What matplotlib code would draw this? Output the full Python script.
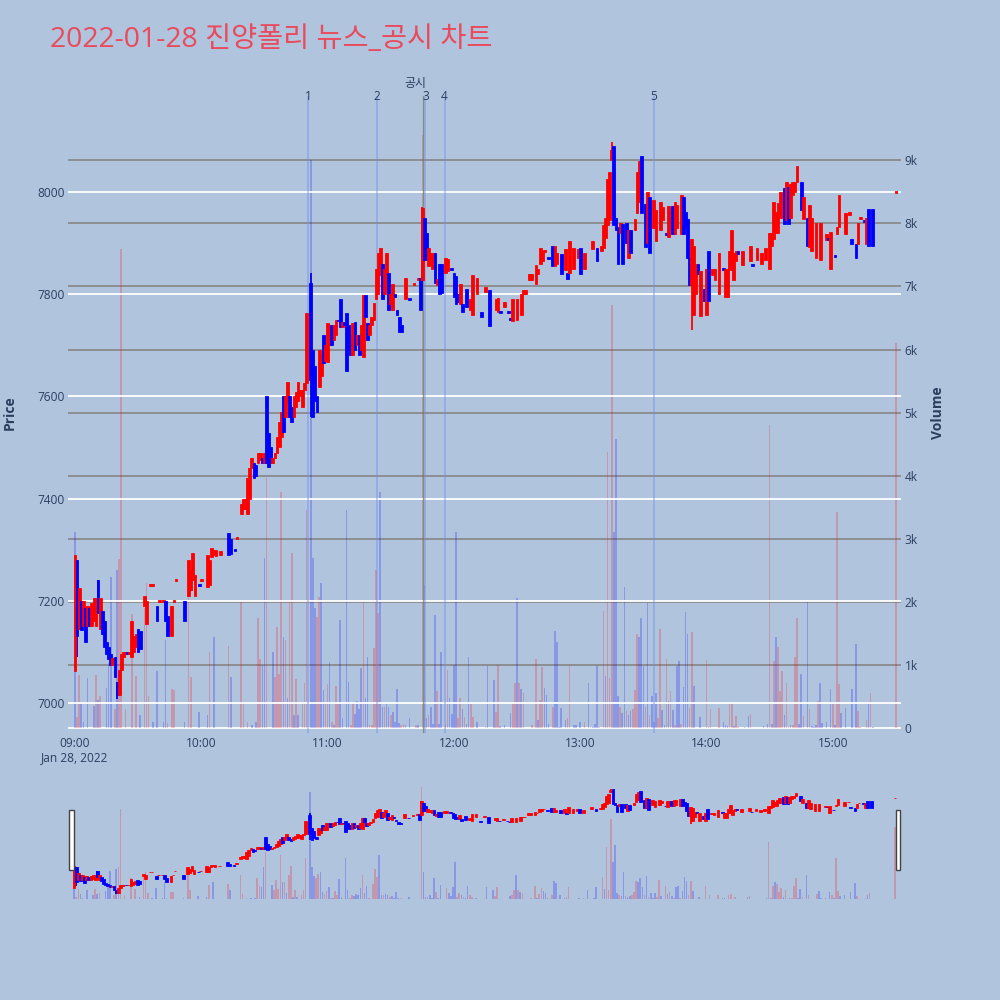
import matplotlib
matplotlib.use('Agg')
import matplotlib.pyplot as plt
import matplotlib.transforms as mtransforms
from matplotlib.patches import Rectangle

plt.rcParams['font.family'] = ['Open Sans', 'Noto Sans CJK KR', 'DejaVu Sans']

N = None
title = '2022-01-28 진양폴리 뉴스_공시 차트'

# one candle per minute after 09:00 (None = no trade that minute)
opens = [
    7062, 7280, 7145, 7200, 7150, 7185, 7150, 7185, 7150, 7160,
    7150, 7240, 7145, 7180, 7160, 7120, 7110, 7095, 7075, 7090,
    7040, 7015, 7065, 7090, 7095, 7100, 7095, 7090, 7100, 7110,
    7145, 7140, N, 7190, 7155, N, 7228, 7228, N, 7190,
    7198, N, 7198, 7200, 7170, N, 7130, 7198, 7238, N,
    N, N, 7200, N, 7210, 7220, 7240, 7210, N, 7232,
    7238, N, N, 7227, 7230, 7285, 7290, 7288, N, 7290,
    N, N, N, 7333, 7320, N, 7302, 7320, N, 7370,
    7380, 7380, 7370, 7400, 7460, 7470, 7465, 7470, 7475, 7480,
    7470, 7600, 7528, 7500, 7470, 7480, 7490, 7500, 7520, 7600,
    7560, 7587, 7600, 7580, 7560, 7580, 7590, 7600, 7580, 7612,
    7626, N, 7822, 7690, 7660, 7600, 7618, 7640, 7720, 7670,
    7667, 7700, 7740, 7710, 7720, 7750, 7790, 7735, 7745, 7763,
    7740, 7720, 7680, 7745, 7700, 7720, 7690, 7677, 7798, 7743,
    7720, 7740, 7750, 7790, 7800, 7837, 7860, 7800, 7810, 7842,
    7780, 7770, 7800, 7770, 7755, 7740, N, 7790, N, 7792,
    N, 7818, N, 7828, 7832, 7828, 7950, 7920, 7855, 7860,
    7850, 7880, 7818, 7860, 7860, N, 7842, 7845, N, 7852,
    7842, 7835, 7800, 7780, 7780, N, 7810, N, 7770, 7760,
    N, 7800, N, 7765, N, 7805, N, 7808, N, N,
    7770, 7765, 7767, N, 7775, N, 7767, 7754, 7748, N,
    7750, N, 7760, 7800, 7800, N, 7828, 7828, N, 7820,
    7840, 7860, 7865, 7883, N, 7872, N, 7895, 7855, 7860,
    N, 7878, N, 7848, 7842, 7842, N, 7850, N, 7870,
    7890, N, 7850, N, N, N, 7888, N, 7890, N,
    7885, 7890, 7910, 7935, 7945, 8063, 8090, 7950, 7932, 7920,
    7938, N, 7940, 7870, 7925, N, 7925, 7958, 7980, 8070,
    N, 7976, 7900, 7990, N, 7930, 7905, N, 7925, 7945,
    N, 7920, 7912, 7930, 7972, 7918, 7930, N, 7918, 7990,
    7960, 7948, 7870, 7818, 7760, 7800, 7860, 7758, N, 7810,
    7760, 7885, N, 7838, 7828, N, 7800, N, 7852, 7795,
    7795, 7850, 7848, 7828, 7865, 7885, N, 7858, N, N,
    N, 7865, 7860, N, 7867, N, 7860, N, 7867, N,
    7850, 7895, 7908, 7920, 7920, 7950, N, 8007, 7945, 8010,
    7950, 7995, 8000, 8020, N, 8020, 7948, N, 7950, 7893,
    7885, N, 7870, N, 7867, N, N, 7906, 7910, 7850,
    N, 7877, 7918, 7932, N, N, 7918, N, 7956, 7908,
    N, 7898, 7898, 7948, N, 7945, 7898, 7966, N, 7966,
    N, N, N, N, N, N, N, N, N, N,
    7998,
]
closes = [
    7290, 7130, 7225, 7143, 7200, 7120, 7190, 7150, 7195, 7205,
    7205, 7175, 7205, 7135, 7110, 7095, 7085, 7075, 7088, 7050,
    7015, 7065, 7095, 7100, 7100, 7096, 7100, 7160, 7130, 7135,
    7100, 7105, N, 7210, 7200, N, 7232, 7232, N, 7160,
    7202, N, 7202, 7160, 7130, N, 7190, 7202, 7242, N,
    N, N, 7160, N, 7280, 7260, 7293, 7250, N, 7228,
    7242, N, N, 7290, 7280, 7303, 7300, 7300, N, 7298,
    N, N, N, 7290, 7292, N, 7298, 7324, N, 7390,
    7400, 7400, 7440, 7460, 7480, 7440, 7445, 7490, 7490, 7470,
    7490, 7470, 7462, 7470, 7480, 7490, 7520, 7550, 7570, 7530,
    7600, 7628, 7560, 7550, 7600, 7608, 7628, 7612, 7612, 7626,
    7763, N, 7632, 7560, 7590, 7570, 7690, 7680, 7665, 7700,
    7743, 7740, 7700, 7740, 7750, 7748, 7735, 7745, 7740, 7650,
    7690, 7680, 7743, 7690, 7720, 7680, 7740, 7798, 7755, 7710,
    7740, 7755, 7782, 7850, 7880, 7890, 7790, 7850, 7880, 7770,
    7800, 7820, 7795, 7760, 7726, 7726, N, 7832, N, 7788,
    N, 7822, N, 7832, 7770, 7968, 7867, 7867, 7890, 7880,
    7880, 7822, 7830, 7800, 7802, N, 7870, 7868, N, 7848,
    7795, 7780, 7785, 7820, 7765, N, 7775, N, 7790, 7838,
    N, 7832, N, 7755, N, 7815, N, 7738, N, N,
    7790, 7792, 7763, N, 7785, N, 7763, 7750, 7790, N,
    7790, N, 7800, 7808, 7808, N, 7840, 7840, N, 7858,
    7850, 7890, 7885, 7887, N, 7868, N, 7855, 7895, 7880,
    N, 7840, N, 7888, 7830, 7905, N, 7890, N, 7888,
    7840, N, 7880, N, N, N, 7905, N, 7865, N,
    7895, 7935, 7950, 8025, 8040, 8082, 7935, 7925, 7860, 7940,
    7860, N, 7900, 7925, 7880, N, 7948, 8040, 8060, 7958,
    N, 7893, 8000, 7880, N, 7985, 7965, N, 7980, 7970,
    N, 7916, 7972, 7965, 7918, 7980, 7975, N, 7995, 7918,
    7930, 7870, 7818, 7908, 7895, 7860, 7840, 7845, N, 7787,
    7850, 7787, N, 7850, 7850, N, 7880, N, 7848, 7850,
    7850, 7885, 7925, 7880, 7885, 7878, N, 7885, N, N,
    N, 7895, 7856, N, 7890, N, 7880, N, 7890, N,
    7920, 7920, 7980, 7960, 7978, 8000, N, 7938, 8020, 7938,
    8015, 8020, 8020, 8050, N, 7965, 7990, N, 7895, 7975,
    7950, N, 7940, N, 7940, N, N, 7918, 7906, 7922,
    N, 7873, 7932, 7995, N, N, 7958, N, 7960, 7898,
    N, 7870, 7940, 7952, N, 7941, 7950, 7895, N, 7895,
    N, N, N, N, N, N, N, N, N, N,
    8002,
]
# minutes whose wick reaches past the body
wick_hi = {11: 7240, 112: 7842, 165: 7970, 255: 8098}
wick_lo = {1: 7090, 20: 7008, 82: 7370, 112: 7560, 293: 7730}

# volume bars: minute, thousands of shares, side (r = up, b = down)
vol_min = [
    0, 1, 2, 3, 4, 6, 9, 10, 11, 12,
    15, 16, 17, 19, 20, 21, 22, 24, 27, 29,
    31, 33, 34, 35, 37, 39, 42, 43, 44, 46,
    47, 52, 54, 55, 59, 63, 64, 66, 73, 74,
    79, 80, 82, 84, 86, 87, 88, 89, 90, 91,
    94, 95, 96, 97, 98, 99, 100, 101, 102, 103,
    104, 105, 106, 108, 109, 110, 112, 113, 114, 115,
    116, 117, 118, 119, 120, 121, 122, 123, 124, 125,
    126, 127, 129, 130, 131, 132, 133, 134, 135, 136,
    137, 138, 139, 140, 141, 142, 143, 144, 145, 146,
    147, 148, 149, 150, 151, 152, 153, 154, 155, 156,
    157, 159, 162, 163, 165, 166, 167, 168, 169, 170,
    171, 172, 173, 174, 176, 177, 178, 179, 180, 181,
    182, 183, 184, 185, 186, 187, 188, 189, 191, 195,
    196, 199, 200, 201, 202, 204, 207, 208, 209, 210,
    211, 212, 213, 217, 219, 220, 221, 222, 223, 224,
    225, 227, 228, 229, 230, 231, 233, 234, 235, 237,
    238, 240, 242, 244, 245, 246, 247, 248, 249, 251,
    252, 253, 254, 255, 256, 257, 258, 259, 260, 261,
    262, 263, 264, 265, 266, 267, 268, 269, 270, 271,
    272, 273, 274, 275, 276, 277, 278, 279, 280, 281,
    282, 283, 284, 285, 286, 287, 288, 289, 290, 291,
    292, 293, 294, 297, 300, 301, 302, 306, 308, 309,
    310, 311, 312, 313, 314, 315, 318, 320, 321, 327,
    329, 330, 331, 332, 333, 334, 335, 336, 337, 338,
    339, 340, 341, 342, 343, 344, 345, 346, 348, 349,
    350, 351, 352, 353, 354, 355, 357, 359, 360, 361,
    362, 363, 364, 366, 369, 371, 372, 373, 376, 377,
    378, 379, 390,
]
vol_k = [
    3.1, 0.17, 0.84, 0.4, 0.1, 0.79, 0.35, 0.84, 0.45, 0.5,
    0.64, 1.03, 2.4, 0.3, 2.5, 2.68, 7.6, 0.3, 1.8, 0.83,
    0.2, 1.9, 2.3, 0.5, 0.1, 0.9, 0.1, 1.4, 0.08, 0.62,
    0.6, 0.1, 2.3, 0.8, 0.25, 0.2, 1.2, 1.45, 1.3, 0.8,
    2.0, 0.4, 0.1, 0.05, 0.1, 1.75, 1.1, 1.0, 2.7, 3.96,
    1.2, 0.8, 1.6, 0.85, 3.74, 1.45, 1.4, 0.47, 2.03, 2.77,
    0.2, 0.77, 0.2, 0.38, 0.72, 3.45, 9.0, 2.7, 1.9, 1.76,
    2.08, 2.3, 0.6, 0.4, 0.7, 1.05, 0.1, 0.05, 0.67, 0.38,
    1.71, 0.15, 3.45, 0.73, 0.05, 0.38, 0.22, 0.43, 0.3, 0.95,
    2.0, 0.48, 1.13, 0.05, 0.04, 1.27, 2.5, 1.82, 3.74, 0.33,
    0.33, 0.4, 0.33, 0.2, 0.25, 0.1, 0.61, 0.08, 0.05, 0.07,
    0.04, 0.15, 0.04, 0.04, 9.4, 2.27, 0.15, 0.2, 0.33, 0.07,
    1.79, 0.58, 0.07, 1.2, 0.04, 0.92, 0.48, 0.22, 1.0, 3.1,
    0.15, 0.48, 0.3, 0.17, 0.07, 1.13, 0.38, 0.17, 0.1, 0.01,
    0.98, 0.76, 0.26, 1.0, 0.03, 0.04, 0.23, 0.38, 0.72, 2.06,
    0.72, 0.62, 0.55, 0.05, 1.1, 0.13, 0.45, 0.97, 0.64, 0.53,
    0.07, 0.34, 1.54, 1.36, 0.01, 0.31, 0.13, 0.16, 1.0, 0.04,
    0.04, 0.1, 0.1, 0.72, 0.02, 0.02, 0.07, 0.98, 0.02, 1.85,
    0.83, 4.37, 0.79, 6.7, 3.1, 4.58, 0.5, 0.33, 0.23, 2.24,
    0.27, 0.2, 0.27, 0.3, 0.6, 1.49, 1.44, 1.74, 0.98, 0.34,
    1.98, 0.2, 0.5, 0.1, 0.55, 0.15, 1.57, 0.28, 0.04, 1.1,
    0.43, 0.58, 0.28, 0.05, 0.98, 1.06, 0.06, 0.65, 1.84, 1.49,
    0.31, 1.52, 0.67, 0.18, 1.08, 0.02, 0.3, 0.31, 0.09, 0.05,
    0.03, 0.38, 0.4, 0.03, 0.19, 0.01, 0.01, 0.19, 0.22, 0.03,
    0.07, 4.8, 0.07, 1.06, 1.45, 1.28, 0.58, 0.9, 0.2, 0.72,
    0.01, 0.05, 0.05, 1.12, 1.75, 0.07, 0.85, 0.19, 2.0, 0.3,
    0.03, 0.02, 0.04, 0.43, 0.71, 0.08, 0.1, 0.62, 0.38, 0.05,
    3.42, 0.69, 0.23, 0.31, 0.62, 1.33, 0.27, 0.01, 0.13, 0.38,
    0.55, 0.01, 6.1,
]
vol_side = [
    'b', 'r', 'r', 'b', 'b', 'b', 'b', 'r', 'b', 'r',
    'b', 'b', 'b', 'r', 'b', 'r', 'r', 'r', 'r', 'r',
    'b', 'r', 'r', 'r', 'b', 'b', 'b', 'b', 'r', 'r',
    'r', 'b', 'r', 'r', 'b', 'b', 'r', 'b', 'r', 'b',
    'r', 'r', 'r', 'b', 'b', 'r', 'r', 'b', 'b', 'r',
    'b', 'r', 'r', 'r', 'r', 'b', 'r', 'b', 'r', 'r',
    'b', 'r', 'b', 'r', 'r', 'r', 'b', 'b', 'b', 'r',
    'r', 'b', 'b', 'r', 'r', 'b', 'r', 'b', 'r', 'r',
    'b', 'b', 'b', 'b', 'r', 'r', 'b', 'b', 'b', 'b',
    'r', 'b', 'b', 'r', 'r', 'r', 'r', 'r', 'b', 'b',
    'r', 'b', 'b', 'r', 'b', 'b', 'b', 'b', 'r', 'r',
    'b', 'b', 'r', 'b', 'r', 'b', 'b', 'r', 'b', 'b',
    'b', 'r', 'b', 'b', 'r', 'r', 'b', 'b', 'b', 'b',
    'r', 'r', 'b', 'r', 'b', 'b', 'r', 'r', 'b', 'r',
    'b', 'b', 'r', 'r', 'b', 'b', 'b', 'r', 'r', 'b',
    'r', 'b', 'r', 'r', 'r', 'b', 'r', 'r', 'b', 'b',
    'b', 'r', 'b', 'b', 'b', 'b', 'b', 'r', 'r', 'b',
    'b', 'b', 'r', 'b', 'r', 'b', 'b', 'b', 'r', 'r',
    'b', 'r', 'r', 'r', 'b', 'b', 'b', 'r', 'b', 'b',
    'r', 'b', 'b', 'r', 'r', 'r', 'b', 'b', 'b', 'r',
    'b', 'r', 'b', 'b', 'b', 'r', 'r', 'b', 'b', 'r',
    'b', 'r', 'b', 'r', 'b', 'b', 'r', 'b', 'b', 'b',
    'r', 'r', 'b', 'b', 'r', 'b', 'r', 'r', 'b', 'b',
    'b', 'r', 'r', 'b', 'r', 'r', 'b', 'b', 'r', 'b',
    'b', 'r', 'b', 'r', 'b', 'r', 'r', 'r', 'b', 'r',
    'r', 'b', 'r', 'r', 'r', 'b', 'b', 'r', 'b', 'r',
    'b', 'b', 'b', 'r', 'b', 'b', 'b', 'b', 'r', 'b',
    'r', 'r', 'b', 'b', 'b', 'b', 'r', 'r', 'r', 'b',
    'r', 'b', 'r',
]

time_ticks = [0, 60, 120, 180, 240, 300, 360]
time_labels = ['09:00', '10:00', '11:00', '12:00', '13:00', '14:00', '15:00']
price_ticks = [7000, 7200, 7400, 7600, 7800, 8000]
vol_ticks = [0, 1, 2, 3, 4, 5, 6, 7, 8, 9]

news_min = [110.7, 143.5, 166.5, 175.6, 275.1]
news_labels = ['1', '2', '3', '4', '5']
disclosure_min = 165.2

RED = '#ff0000'
BLUE = '#0000ff'
PLOT_BG = '#e5ecf6'
TEXT = '#2a3f5f'


def draw_candles(ax, axv):
    xs, bottoms, heights, cols = [], [], [], []
    wx, wlo, whi, wcol = [], [], [], []
    for i, (o, c) in enumerate(zip(opens, closes)):
        if o is None:
            continue
        col = RED if c > o else BLUE
        xs.append(i)
        bottoms.append(min(o, c))
        heights.append(abs(c - o))
        cols.append(col)
        if i in wick_hi or i in wick_lo:
            wx.append(i)
            wlo.append(wick_lo.get(i, min(o, c)))
            whi.append(wick_hi.get(i, max(o, c)))
            wcol.append(col)
    ax.vlines(wx, wlo, whi, colors=wcol, linewidth=1.3, zorder=3)
    ax.bar(xs, heights, bottom=bottoms, width=1.3, color=cols,
           edgecolor=cols, linewidth=0.6, zorder=3)
    vcols = [RED if s == 'r' else BLUE for s in vol_side]
    axv.bar(vol_min, vol_k, width=0.75, color=vcols, alpha=0.22,
            linewidth=0, zorder=2)


fig = plt.figure(figsize=(10, 10), dpi=100)
fig.patch.set_facecolor('#b0c4de')

main = fig.add_axes([0.068, 0.267, 0.833, 0.637])
vol = main.twinx()
main.set_zorder(vol.get_zorder() + 1)
main.patch.set_visible(False)
vol.patch.set_facecolor(PLOT_BG)

draw_candles(main, vol)

main.set_xlim(-3.3, 392.4)
main.set_ylim(6941, 8188)
vol.set_ylim(-0.08, 10.02)

main.set_yticks(price_ticks)
main.set_yticklabels([str(p) for p in price_ticks])
main.grid(axis='y', color='white', linewidth=1.3)
main.set_axisbelow(True)
vol.set_yticks(vol_ticks)
vol.set_yticklabels(['0'] + ['%dk' % v for v in vol_ticks[1:]])
for v in vol_ticks[1:]:
    vol.axhline(v, color='#8a8a8a', linewidth=1.3, zorder=1)
vol.axhline(0, color='white', linewidth=1.3, zorder=1)

main.set_xticks(time_ticks)
main.set_xticklabels(time_labels)
for a in (main, vol):
    for s in a.spines.values():
        s.set_visible(False)
    a.tick_params(length=0, labelsize=8.6, labelcolor=TEXT, pad=2.5)
main.tick_params(axis='x', pad=3)

blend = mtransforms.blended_transform_factory(main.transData, main.transAxes)
for m, lab in zip(news_min, news_labels):
    main.axvline(m, color='#6f8ff0', alpha=0.55, linewidth=1.1, zorder=2)
    main.text(m, 1.0, lab, transform=blend, ha='center', va='center',
              fontsize=8.6, color=TEXT)
main.axvline(disclosure_min, color='#6f7f4f', alpha=0.75, linewidth=0.9, zorder=2)
main.annotate('공시', xy=(disclosure_min, 1.0), xycoords=blend,
              xytext=(-7, 13), textcoords='offset pixels',
              ha='center', va='center', fontsize=8.6, color=TEXT)
main.text(0, -0.038, 'Jan 28, 2022', transform=blend, ha='center',
          va='center', fontsize=8.6, color=TEXT)

# range slider
sl = fig.add_axes([0.072, 0.100, 0.825, 0.120])
slv = sl.twinx()
sl.set_zorder(slv.get_zorder() + 1)
sl.patch.set_visible(False)
slv.patch.set_facecolor(PLOT_BG)
draw_candles(sl, slv)
sl.set_xlim(-1, 391)
sl.set_ylim(6941, 8188)
slv.set_ylim(-0.08, 10.02)
for a in (sl, slv):
    a.set_xticks([])
    a.set_yticks([])
    for s in a.spines.values():
        s.set_visible(False)
for x0 in (0.069, 0.8955):
    fig.patches.append(Rectangle((x0, 0.130), 0.0045, 0.060,
                                 transform=fig.transFigure, facecolor='white',
                                 edgecolor='#444444', linewidth=1, zorder=5))

fig.text(0.05, 0.96, title, fontsize=20.4, color='#ea4b5c', va='center', ha='left')
fig.text(0.01, 0.587, 'Price', rotation=90, fontsize=10, fontweight='bold',
         color=TEXT, va='center', ha='center')
fig.text(0.938, 0.587, 'Volume', rotation=90, fontsize=10, fontweight='bold',
         color=TEXT, va='center', ha='center')

fig.savefig('out.png', dpi=100, facecolor=fig.get_facecolor())
